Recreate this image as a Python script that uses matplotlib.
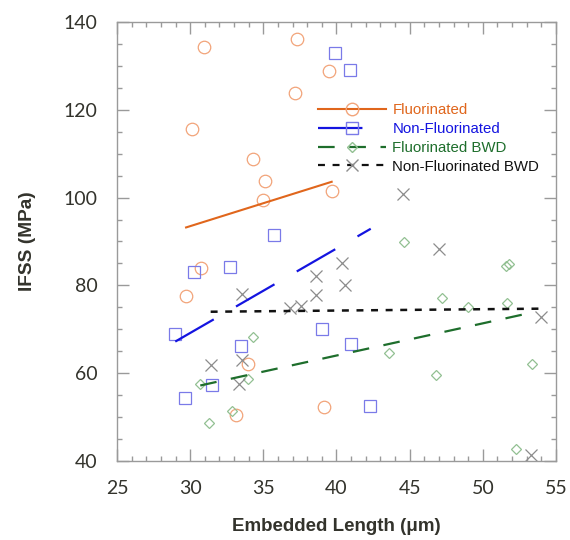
import numpy as np
import matplotlib
matplotlib.use("Agg")
import matplotlib.pyplot as plt
from matplotlib.lines import Line2D
from matplotlib.ticker import MultipleLocator

plt.rcParams["lines.scale_dashes"] = False

# data
fluor_x = [30.97, 37.32, 39.51, 37.19, 30.15, 34.29, 35.14, 35.0, 39.67,
           30.77, 29.72, 33.95, 33.15, 39.15]
fluor_y = [134.4, 136.2, 128.8, 123.8, 115.6, 108.9, 103.7, 99.4, 101.5,
           83.9, 77.5, 62.2, 50.5, 52.4]

nonfluor_x = [39.92, 40.94, 35.75, 30.26, 32.72, 28.99, 33.5, 31.51, 29.67,
              39.01, 41.01, 42.29]
nonfluor_y = [132.9, 129.1, 91.5, 83.1, 84.3, 68.9, 66.1, 57.2, 54.3,
              70.1, 66.6, 52.6]

fbwd_x = [34.27, 33.98, 30.69, 32.86, 31.26, 44.59, 51.6, 51.8, 47.19,
          48.96, 51.63, 43.59, 46.82, 53.36, 52.27]
fbwd_y = [68.3, 58.6, 57.5, 51.5, 48.7, 89.9, 84.5, 84.9, 77.1,
          75.1, 76.1, 64.7, 59.7, 62.0, 42.8]

nfbwd_x = [44.57, 46.98, 40.38, 40.56, 38.6, 38.6, 37.55, 36.84, 33.56,
           31.45, 33.52, 33.34, 53.98, 53.27]
nfbwd_y = [100.8, 88.3, 85.1, 80.2, 82.2, 77.7, 75.4, 74.8, 78.0,
           61.9, 62.9, 57.6, 72.8, 41.3]

# fitted trend lines (end points)
fluor_fit_x = [29.72, 39.67]
fluor_fit_y = [93.2, 103.6]
nonfluor_fit_x = [28.98, 42.34]
nonfluor_fit_y = [67.2, 92.9]
fbwd_fit_x = [30.69, 53.2]
fbwd_fit_y = [57.2, 73.7]
nfbwd_fit_x = [31.4, 54.0]
nfbwd_fit_y = [74.0, 74.7]

labels = ["Fluorinated", "Non-Fluorinated", "Fluorinated BWD", "Non-Fluorinated BWD"]


fig = plt.figure(figsize=(5.7, 5.4), dpi=100)
ax = fig.add_axes([0.2053, 0.1463, 0.7701, 0.8130])

mk_or = "#f2a47a"
mk_bl = "#7a7ae8"
mk_gr = "#92c092"
mk_gy = "#8c8c8c"

ax.plot(fluor_x, fluor_y, ls="none", marker="o", ms=9, mfc="none", mec=mk_or, mew=0.9)
ax.plot(nonfluor_x, nonfluor_y, ls="none", marker="s", ms=8, mfc="none", mec=mk_bl, mew=0.9)
ax.plot(fbwd_x, fbwd_y, ls="none", marker="D", ms=5.6, mfc="none", mec=mk_gr, mew=0.9)
ax.plot(nfbwd_x, nfbwd_y, ls="none", marker="x", ms=8.6, mec=mk_gy, mew=0.9)

c_or = "#e0661c"
c_bl = "#1414e0"
c_gr = "#1e6e2c"
c_bk = "#111111"

ax.plot(fluor_fit_x, fluor_fit_y, color=c_or, lw=1.5)
ax.plot(nonfluor_fit_x, nonfluor_fit_y, color=c_bl, lw=1.6, dashes=(32, 18.5))
ax.plot(fbwd_fit_x, fbwd_fit_y, color=c_gr, lw=1.6, dashes=(12, 10.5))
ax.plot(nfbwd_fit_x, nfbwd_fit_y, color=c_bk, lw=1.8, dashes=(5, 5.5))

ax.set_xlim(25, 55)
ax.set_ylim(40, 140)
ax.xaxis.set_major_locator(MultipleLocator(5))
ax.xaxis.set_minor_locator(MultipleLocator(1))
ax.yaxis.set_major_locator(MultipleLocator(20))
ax.yaxis.set_minor_locator(MultipleLocator(5))

for s in ax.spines.values():
    s.set_color("#9a9a9a")
    s.set_linewidth(1.0)
ax.tick_params(which="both", direction="in", top=True, right=True,
               color="#9a9a9a", width=1.0)
ax.tick_params(which="major", length=8.5, labelsize=14, labelcolor="#33332c")
ax.tick_params(axis="y", which="major", pad=14)
ax.tick_params(axis="x", which="major", pad=14)
ax.tick_params(which="minor", length=3.5)
for t in ax.get_xticklabels() + ax.get_yticklabels():
    t.set_family("Lato")

ax.set_xlabel("Embedded Length (\u03bcm)", fontsize=13.5, fontweight="bold",
              color="#33332c", labelpad=15, family="Liberation Sans")
ax.set_ylabel("IFSS (MPa)", fontsize=13.8, fontweight="bold",
              color="#33332c", labelpad=20, family="Liberation Sans")

handles = [
    Line2D([], [], color=c_or, lw=1.5, marker="o", ms=9, mfc="none", mec=mk_or),
    Line2D([], [], color=c_bl, lw=1.6, dashes=(32, 18.5), marker="s", ms=8, mfc="none", mec=mk_bl),
    Line2D([], [], color=c_gr, lw=1.6, dashes=(12, 10.5), marker="D", ms=5.6, mfc="none", mec=mk_gr),
    Line2D([], [], color=c_bk, lw=1.6, dashes=(5, 5.5), marker="x", ms=8.6, mec=mk_gy),
]
leg = ax.legend(handles, labels, loc="upper left", bbox_to_anchor=(0.458, 0.815),
                frameon=False, borderaxespad=0, borderpad=0, handlelength=4.5,
                handletextpad=0.45, labelspacing=0.32,
                prop={"family": "Liberation Sans", "size": 10.8})
for txt, c in zip(leg.get_texts(), [c_or, c_bl, c_gr, c_bk]):
    txt.set_color(c)

fig.savefig("out.png", dpi=100)
